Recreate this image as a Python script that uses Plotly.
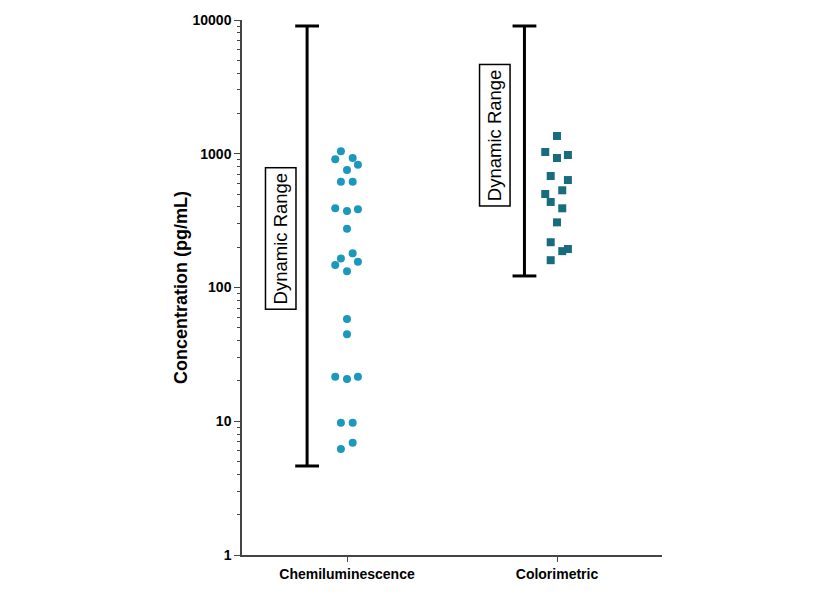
import math
import plotly.graph_objects as go

categories = ["Chemiluminescence", "Colorimetric"]

# Measured concentrations (pg/mL)
chemi_values = [1043, 909, 929, 828, 756, 618, 618, 391, 373, 384, 275,
                180, 165, 147, 156, 132, 58.2, 44.7, 21.5, 20.7, 21.5,
                9.75, 9.75, 6.92, 6.2]
chemi_jitter = [-0.029, -0.056, 0.027, 0.052, 0.0, -0.029, 0.027, -0.056, 0.0, 0.052, 0.0,
                0.027, -0.029, -0.056, 0.052, 0.0, 0.0, 0.0, -0.056, 0.0, 0.052,
                -0.029, 0.027, 0.027, -0.029]

colori_values = [1358, 1031, 929, 979, 682, 636, 500, 533, 436, 391, 307,
                 218, 187, 194, 160]
colori_jitter = [0.0, -0.056, 0.0, 0.052, -0.030, 0.052, -0.056, 0.025, -0.030, 0.025, 0.0,
                 -0.030, 0.025, 0.052, -0.030]

# Dynamic range (low, high) per assay
range_low = [4.63, 122]
range_high = [9020, 9020]
range_offset = [-0.19, -0.155]
label_offset = [-0.315, -0.294]
label_center = [234, 1370]

y_tickvals = [1, 10, 100, 1000, 10000]
y_ticktext = ["1", "10", "100", "1000", "10000"]

fig = go.Figure()

for i in range(len(categories)):
    xr = i + range_offset[i]
    fig.add_trace(go.Scatter(
        x=[xr, xr], y=[range_low[i], range_high[i]],
        mode="lines+markers",
        line=dict(color="black", width=3),
        marker=dict(symbol="line-ew", size=17, line=dict(color="black", width=3)),
        showlegend=False, hoverinfo="skip"))

fig.add_trace(go.Scatter(
    x=[0 + j for j in chemi_jitter], y=chemi_values,
    mode="markers",
    marker=dict(symbol="circle", size=8, color="#1d98bd"),
    showlegend=False, name=categories[0]))

fig.add_trace(go.Scatter(
    x=[1 + j for j in colori_jitter], y=colori_values,
    mode="markers",
    marker=dict(symbol="square", size=8, color="#186c7e"),
    showlegend=False, name=categories[1]))

for i in range(len(categories)):
    fig.add_annotation(
        x=i + label_offset[i], y=math.log10(label_center[i]),
        xref="x", yref="y",
        text="Dynamic Range", textangle=-90, showarrow=False,
        font=dict(family="Liberation Sans, Arial, sans-serif", size=18.5, color="black"),
        bordercolor="black", borderwidth=1.5, borderpad=4, bgcolor="white")

fig.update_layout(
    width=840, height=595,
    margin=dict(l=242, r=178, t=20, b=40),
    paper_bgcolor="white", plot_bgcolor="white",
    font=dict(family="Liberation Sans, Arial, sans-serif", color="black"),
    xaxis=dict(
        range=[-0.5, 1.5],
        tickvals=[0, 1], ticktext=["<b>%s</b>" % c for c in categories],
        tickfont=dict(size=14, color="black"),
        ticks="outside", ticklen=5, tickwidth=1.2, tickcolor="#444",
        showline=True, linecolor="#444", linewidth=1.5,
        showgrid=False, zeroline=False),
    yaxis=dict(
        type="log", range=[0, 4],
        tickvals=y_tickvals, ticktext=["<b>%s</b>" % t for t in y_ticktext],
        tickfont=dict(size=14, color="black"),
        ticks="outside", ticklen=6, tickwidth=1.2, tickcolor="#444",
        minor=dict(ticks="outside", ticklen=3, tickwidth=1, tickcolor="#444", dtick="D1", showgrid=False),
        showline=True, linecolor="#444", linewidth=1.5,
        showgrid=False, zeroline=False,
        title=dict(text="<b>Concentration (pg/mL)</b>", font=dict(size=18, color="black"), standoff=0)),
)

fig.write_html("out.html")
